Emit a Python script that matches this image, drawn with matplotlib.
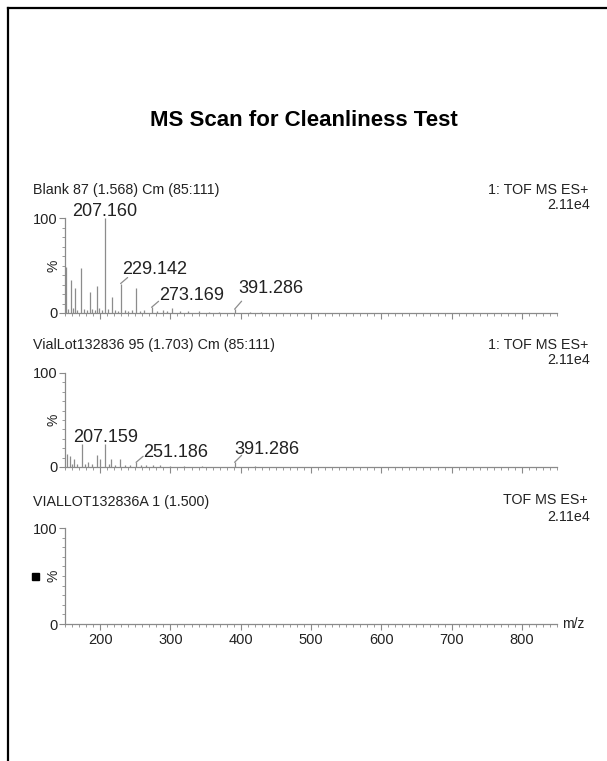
import matplotlib.pyplot as plt
from matplotlib.patches import Rectangle
from matplotlib.lines import Line2D
from matplotlib.ticker import MultipleLocator

plt.rcParams['font.family'] = ['Liberation Sans', 'DejaVu Sans']

W, H = 607, 761

title = "MS Scan for Cleanliness Test"

# Blank 87 spectrum: m/z and relative intensity (%)
blank_mz = [151.4, 154.0, 158.0, 162.0, 164.0, 167.0, 172.8, 177.0, 181.0, 185.6,
            189.0, 193.0, 196.0, 199.0, 203.0, 207.160, 211.0, 216.4, 221.0, 225.0,
            229.142, 235.0, 239.0, 245.0, 251.0, 257.0, 263.0, 273.169, 281.0, 289.0,
            295.0, 301.7, 313.0, 325.0, 341.0, 355.0, 369.0, 391.286, 413.0, 429.0]
blank_int = [48, 4, 35, 5, 26, 3, 47, 4, 3, 22,
             4, 3, 28, 5, 3, 100, 4, 17, 3, 2,
             31, 3, 2, 3, 26, 2, 3, 6, 2, 3,
             2, 5, 2, 2, 2, 1.5, 1.5, 4, 1.5, 1.5]
blank_labels = [207.160, 229.142, 273.169, 391.286]

# VialLot132836 95 spectrum
vial_mz = [153.3, 157.0, 160.0, 163.0, 167.0, 173.7, 178.0, 183.0, 189.0, 195.0,
           200.0, 207.159, 212.0, 216.0, 221.0, 228.0, 235.0, 242.0, 251.186, 258.0,
           265.0, 275.0, 285.0, 300.0, 320.0, 345.0, 391.286, 420.0]
vial_int = [14, 12, 3, 8, 3, 24, 3, 5, 3, 13,
            8, 25, 3, 9, 2, 9, 2, 2, 5, 2,
            2, 2, 2, 1.5, 1.5, 1.5, 5, 1]
vial_labels = [207.159, 251.186, 391.286]

# VIALLOT132836A 1: empty scan
empty_mz = []
empty_int = []

headers = ["Blank 87 (1.568) Cm (85:111)",
           "VialLot132836 95 (1.703) Cm (85:111)",
           "VIALLOT132836A 1 (1.500)"]
functions = ["1: TOF MS ES+", "1: TOF MS ES+", "TOF MS ES+"]
scale_text = "2.11e4"
mz_range = (150, 850)

PEAK = '#8c8c8c'
AXC = '#8a8a8a'
TXT = '#222222'


def fx(px):
    return px / W


def fy(py):
    return 1 - py / H


fig = plt.figure(figsize=(W / 100, H / 100), dpi=100)
fig.patch.set_facecolor('white')

# page frame: left and top rules
fig.add_artist(Line2D([fx(8), fx(8)], [fy(8), 0], color='black', lw=1.6))
fig.add_artist(Line2D([fx(8), 1], [fy(8), fy(8)], color='black', lw=1.6))

fig.text(fx(304), fy(120), title, ha='center', va='center',
         fontsize=16, fontweight='bold', color='black')

# (zero line px, 100% line px, header y px, function y px, scale y px)
panels = [(313, 218, 190, 190, 205),
          (467, 373, 345, 345, 360),
          (624, 528, 502, 500, 517)]

# label placement: m/z -> (text dx, text dy, ha, leader end dx, dy) in pixels
label_pos = {
    207.160: (0, 2, 'center', None),
    229.142: (1, 10, 'left', (7, 6)),
    273.169: (8, 7, 'left', (7, 6)),
    391.286: (4, 16, 'left', (7, 8)),
}
label_pos2 = {
    207.159: (0, 1, 'center', None),
    251.186: (7, 5, 'left', (7, 6)),
    391.286: (0, 8, 'left', (7, 7)),
}

spectra = [(blank_mz, blank_int, blank_labels, label_pos),
           (vial_mz, vial_int, vial_labels, label_pos2),
           (empty_mz, empty_int, [], {})]

x0, x1 = 65, 557
axes = []
for i, ((y0, y100, hy, fy_, sy), (mz, inten, labels, lpos)) in enumerate(zip(panels, spectra)):
    ax = fig.add_axes([fx(x0), fy(y0), fx(x1) - fx(x0), fy(y100) - fy(y0)])
    ax.set_xlim(*mz_range)
    ax.set_ylim(0, 100)
    ax.set_facecolor('none')
    for s in ['top', 'right']:
        ax.spines[s].set_visible(False)
    for s in ['left', 'bottom']:
        ax.spines[s].set_color(AXC)
        ax.spines[s].set_linewidth(0.9)

    if mz:
        ax.vlines(mz, 0, inten, color=PEAK, lw=0.9)

    for m in labels:
        h = inten[mz.index(m)]
        dx, dy, ha, lead = lpos[m]
        ax.annotate(f"{m:.3f}", xy=(m, h), xytext=(dx, dy), textcoords='offset pixels',
                    ha=ha, va='baseline', fontsize=13, color=TXT, annotation_clip=False)
        if lead:
            ax.annotate('', xy=(m, h), xytext=lead, textcoords='offset pixels',
                        arrowprops=dict(arrowstyle='-', color=PEAK, lw=0.9,
                                        shrinkA=0, shrinkB=0), annotation_clip=False)

    ax.yaxis.set_major_locator(MultipleLocator(100))
    ax.yaxis.set_minor_locator(MultipleLocator(10))
    ax.xaxis.set_major_locator(MultipleLocator(100))
    ax.xaxis.set_minor_locator(MultipleLocator(10))
    ax.tick_params(axis='both', which='major', length=4, width=0.8, color=AXC,
                   labelsize=10.5, labelcolor=TXT)
    ax.tick_params(axis='both', which='minor', length=2, width=0.6, color=AXC)
    ax.tick_params(axis='y', pad=1.5)
    ax.tick_params(axis='x', pad=2.5)
    if i < 2:
        ax.tick_params(axis='x', labelbottom=False)
    else:
        ax.text(1.01, 0, 'm/z', transform=ax.transAxes, ha='left', va='center',
                fontsize=10, color=TXT)

    ax.text(-12 / (x1 - x0), 0.5, '%', transform=ax.transAxes, rotation=90,
            ha='center', va='center', fontsize=10, color=TXT)

    fig.text(fx(33), fy(hy), headers[i], ha='left', va='center', fontsize=10.3, color=TXT)
    fig.text(fx(588), fy(fy_), functions[i], ha='right', va='center', fontsize=10.3, color=TXT)
    fig.text(fx(590), fy(sy), scale_text, ha='right', va='center', fontsize=10.3, color=TXT)
    axes.append(ax)

# small filled marker beside the empty scan
fig.add_artist(Rectangle((fx(31.5), fy(579.5)), fx(7), 7 / H, color='black',
                         transform=fig.transFigure))

fig.savefig('out.png', dpi=100, facecolor='white')
